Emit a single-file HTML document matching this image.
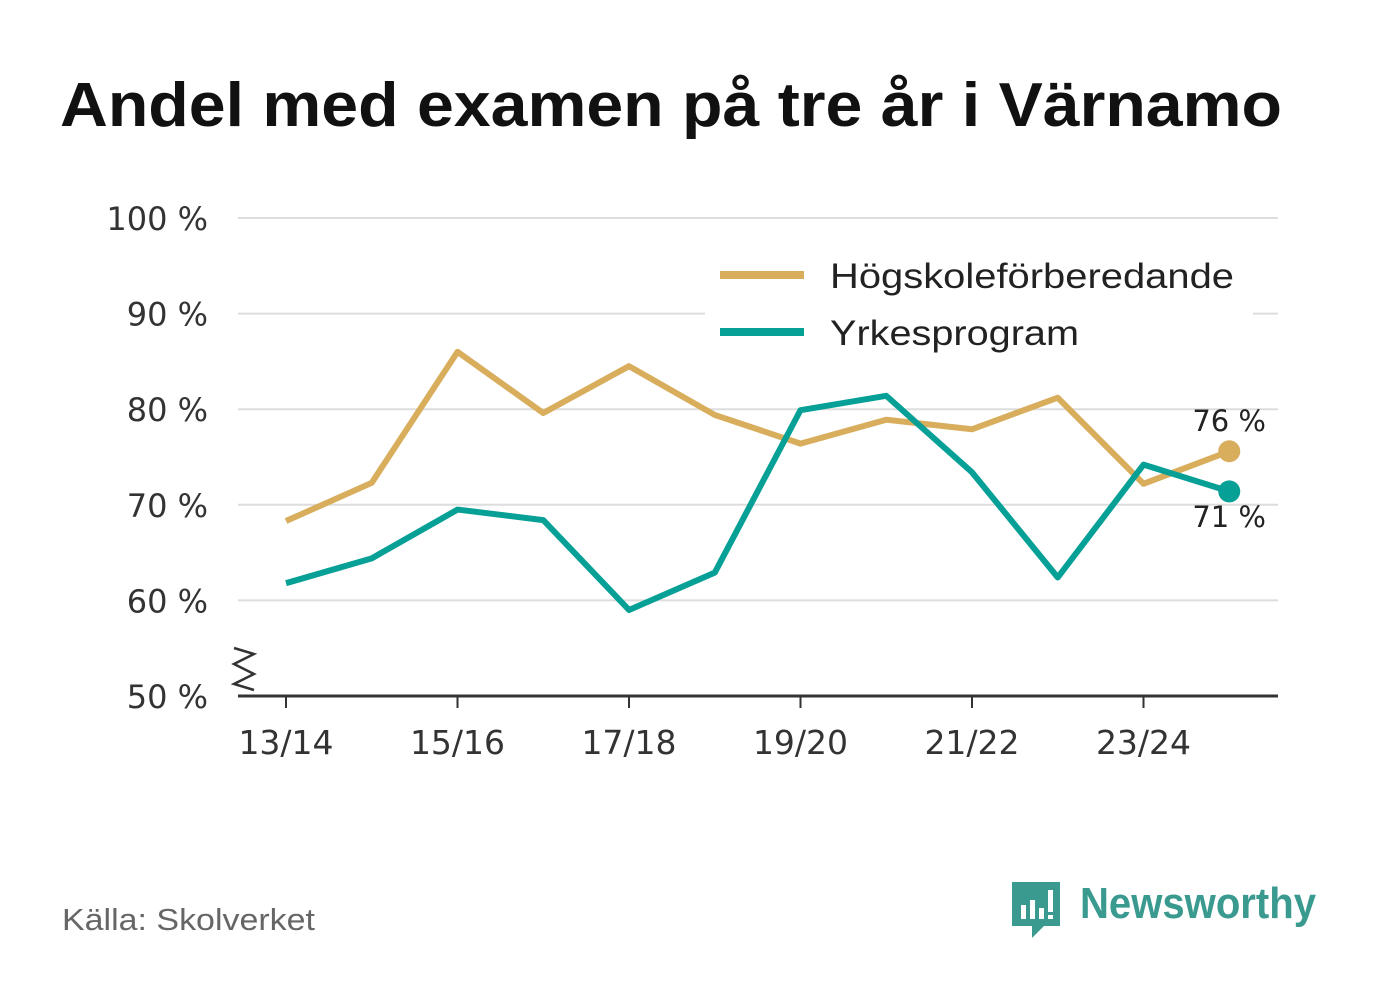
<!DOCTYPE html>
<html><head><meta charset="utf-8"><style>
body{margin:0;background:#fff;width:1382px;height:999px;overflow:hidden;font-family:"Liberation Sans",sans-serif}
</style></head><body>
<svg id="c" width="1382" height="999" xmlns="http://www.w3.org/2000/svg">
<text x="60" y="126" font-size="62" font-weight="bold" fill="#111" textLength="1222" lengthAdjust="spacingAndGlyphs">Andel med examen på tre år i Värnamo</text>
<g id="grid"></g><g id="lines"></g>
<text x="62" y="930" font-size="31" fill="#666" textLength="253" lengthAdjust="spacingAndGlyphs">Källa: Skolverket</text>
<g>
<path d="M1012 882 h48 v44 h-16 l-12 12 v-12 h-20 z" fill="#3a9a8f"/>
<rect x="1021" y="905" width="5" height="14" fill="#fff"/><rect x="1030" y="900" width="5" height="19" fill="#fff"/><rect x="1039" y="908" width="5" height="11" fill="#fff"/><rect x="1048" y="890" width="5" height="22" fill="#fff"/><rect x="1048" y="915" width="5" height="4" fill="#fff"/>
<text x="1080" y="918" font-size="44" font-weight="bold" fill="#3a9a8f" textLength="236" lengthAdjust="spacingAndGlyphs">Newsworthy</text>
</g>
</svg>
<script>
const categories=["13/14","14/15","15/16","16/17","17/18","18/19","19/20","20/21","21/22","22/23","23/24","24/25"];
const hogskola=[68.3,72.3,86.0,79.6,84.5,79.4,76.4,78.9,77.9,81.2,72.2,75.6];
const yrkes=[61.8,64.4,69.5,68.4,59.0,62.9,79.9,81.4,73.4,62.4,74.2,71.4];
const yTicks=[50,60,70,80,90,100];
const NS="http://www.w3.org/2000/svg";
const x=i=>286+i*85.75, y=v=>696-(v-50)*9.56;
function mk(t,a,p){const e=document.createElementNS(NS,t);for(const k in a)e.setAttribute(k,a[k]);p.appendChild(e);return e;}
const g=document.getElementById('grid'), L=document.getElementById('lines');
const F='"DejaVu Sans",sans-serif';
yTicks.forEach(v=>{
 if(v>50){const l=mk('line',{x1:238,x2:1278,y1:y(v),y2:y(v),stroke:'#ddd','stroke-width':2},g);
 
 }
 const t=mk('text',{x:208,y:y(v)+12,'text-anchor':'end','font-size':32,fill:'#333','font-family':F},g);t.textContent=v+' %';
 
 
});
const ax=mk('line',{x1:238,x2:1278,y1:696,y2:696,stroke:'#333','stroke-width':3},g);


const br=mk('path',{d:'M234 648 l20 6 l-20 10 l20 10 l-20 10 l20 6',fill:'none',stroke:'#333','stroke-width':2.5},g);


categories.forEach((c,i)=>{ if(i%2)return;
 mk('line',{x1:x(i),x2:x(i),y1:696,y2:708,stroke:'#333','stroke-width':2},g);
 const t=mk('text',{x:x(i),y:754,'text-anchor':'middle','font-size':33,fill:'#333','font-family':F},g);t.textContent=c;
 
 
});
function series(d,col,name,ly){
 const p=mk('polyline',{points:d.map((v,i)=>x(i)+','+y(v)).join(' '),fill:'none',stroke:col,'stroke-width':6,'stroke-linejoin':'round'},L);
 
 
 const n=d.length-1;
 const c=mk('circle',{cx:x(n),cy:y(d[n]),r:11,fill:col},L);
 
 
 const t=mk('text',{x:1266,y:ly,'text-anchor':'end','font-size':29,fill:'#222','font-family':F},L);t.textContent=Math.round(d[n])+' %';
 
 
}
series(hogskola,'#d8ad5c','hogskole',431);
series(yrkes,'#06a096','yrkes',527);
const lg=mk('g',{},L);


mk('rect',{x:705,y:246,width:548,height:118,fill:'#fff'},lg);
mk('line',{x1:720,x2:804,y1:275,y2:275,stroke:'#d8ad5c','stroke-width':8},lg);
mk('line',{x1:720,x2:804,y1:332,y2:332,stroke:'#06a096','stroke-width':8},lg);
const t1=mk('text',{x:830,y:288,'font-size':35,fill:'#222',textLength:404,lengthAdjust:'spacingAndGlyphs'},lg);t1.textContent='Högskoleförberedande';


const t2=mk('text',{x:830,y:345,'font-size':35,fill:'#222',textLength:249,lengthAdjust:'spacingAndGlyphs'},lg);t2.textContent='Yrkesprogram';


</script>
</body></html>
